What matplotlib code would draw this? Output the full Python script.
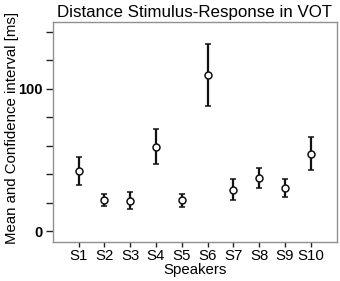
import numpy as np
from matplotlib import pyplot as plt

speakers = ['S1', 'S2', 'S3', 'S4', 'S5', 'S6', 'S7', 'S8', 'S9', 'S10']
means = [42.2, 21.8, 21.3, 59.2, 21.6, 109.8, 28.8, 37.2, 30.4, 54.3]
upper = [52.0, 26.2, 27.4, 71.5, 26.2, 131.4, 36.5, 44.5, 36.8, 65.8]
lower = [32.5, 17.3, 15.5, 47.3, 16.9, 88.1, 21.6, 30.2, 23.9, 43.1]

plt.rcParams['font.family'] = ['Liberation Sans', 'DejaVu Sans']

fig = plt.figure(figsize=(3.4, 2.81), dpi=100)
ax = fig.add_axes([52.7 / 340, 1 - 241.7 / 281, (336.7 - 52.7) / 340, (241.7 - 22.3) / 281])

x = np.arange(1, len(speakers) + 1)
m = np.array(means)
err = [m - np.array(lower), np.array(upper) - m]
ax.errorbar(x, m, yerr=err, fmt='o', mfc='white', mec='#111111', ms=5, mew=1.1,
            ecolor='#111111', elinewidth=1.6, capsize=2.4, capthick=1.6)

ax.set_xlim(0, 11)
ax.set_ylim(-7.5, 146.7)
ax.set_xticks(x)
ax.set_xticklabels(speakers, fontsize=10.8)
ax.set_yticks(np.arange(0, 141, 20))
ax.set_yticklabels(['0', '', '', '', '', '100', '', ''], fontsize=10.5, fontweight='bold')
ax.tick_params(axis='y', direction='out', length=5, width=1, color='#222222', pad=2)
ax.tick_params(axis='x', direction='out', length=3.5, width=1, color='#222222', pad=2)

for s in ax.spines.values():
    s.set_color('#909090')
    s.set_linewidth(1)

ax.set_title('Distance Stimulus-Response in VOT', fontsize=12.2, pad=4)
ax.set_xlabel('Speakers', fontsize=10.8, labelpad=0)
ax.set_ylabel('Mean and Confidence interval [ms]', fontsize=10.8, labelpad=3)
ax.yaxis.set_label_coords(-0.12, 0.52)

fig.savefig('out.png', dpi=100)
